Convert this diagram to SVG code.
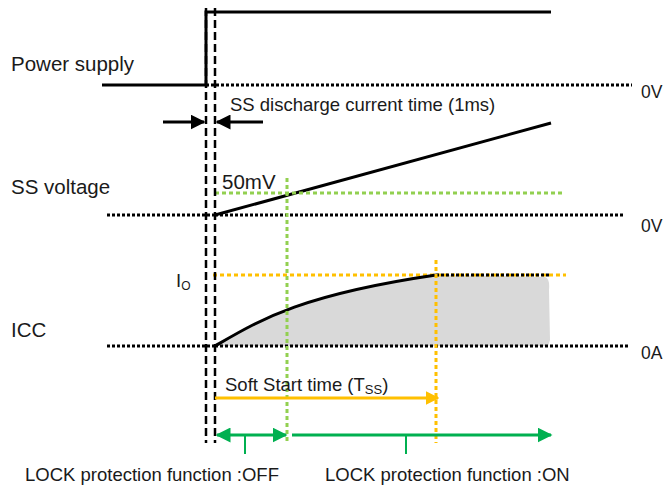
<svg xmlns="http://www.w3.org/2000/svg" width="664" height="487" viewBox="0 0 664 487">
<defs>
<style>
text{font-family:"Liberation Sans",Arial,sans-serif;font-size:18.5px;fill:#1a1a1a}
.big{font-size:20.5px}
.small{font-size:17.5px}
.solid{stroke:#000;stroke-width:3;fill:none}
.dot{stroke:#000;stroke-width:3;stroke-dasharray:3 2;fill:none}
.vdash{stroke:#000;stroke-width:2.5;stroke-dasharray:8 4;fill:none}
.gdot{stroke:#92d050;stroke-width:3;stroke-dasharray:4 3;fill:none}
.odot{stroke:#ffc000;stroke-width:3;stroke-dasharray:4 3;fill:none}
</style>
<marker id="ab" viewBox="0 0 10 10" refX="9" refY="5" markerWidth="5" markerHeight="5" orient="auto-start-reverse"><path d="M0,0L10,5L0,10z" fill="#000"/></marker>
<marker id="ag" viewBox="0 0 10 10" refX="9" refY="5" markerWidth="5" markerHeight="5" orient="auto-start-reverse"><path d="M0,0L10,5L0,10z" fill="#00b050"/></marker>
<marker id="ao" viewBox="0 0 10 10" refX="9" refY="5" markerWidth="4.5" markerHeight="4.5" orient="auto"><path d="M0,0L10,5L0,10z" fill="#ffc000"/></marker>
</defs>
<rect width="664" height="487" fill="#fff"/>

<g id="fill-area">
<path d="M215,346 C260,320 300,295 436,275 L545,277 Q550,278 549,290 L550,340 L548,346 Z" fill="#d9d9d9"/>
</g>

<g id="power-supply">
<text class="big" x="11" y="71">Power supply</text>
<path class="solid" d="M102,85 H206 V12 H551"/>
<line class="dot" x1="206" y1="85" x2="632" y2="85"/>
<text class="small" x="641" y="98">0V</text>
</g>

<g id="ss-voltage">
<text class="big" x="11" y="194">SS voltage</text>
<line class="dot" x1="107" y1="215" x2="215" y2="215"/>
<line class="dot" x1="215" y1="215" x2="624" y2="215"/>
<line class="solid" x1="215" y1="215" x2="551" y2="123"/>
<text class="small" x="641" y="232">0V</text>
<text class="big" x="222" y="189">50mV</text>
<line class="gdot" x1="215" y1="193" x2="565" y2="193"/>
</g>

<g id="icc">
<text class="big" x="11" y="337">ICC</text>
<line class="dot" x1="107" y1="346" x2="215" y2="346"/>
<line class="dot" x1="215" y1="346" x2="630" y2="346"/>
<text class="small" x="641" y="359">0A</text>
<text x="176" y="287">I<tspan font-size="12" dy="3">O</tspan></text>
<line class="odot" x1="213" y1="275" x2="566" y2="275"/>
<path class="solid" d="M215,346 C260,320 300,295 436,275"/>
<line class="dot" x1="436" y1="275" x2="550" y2="275"/>
</g>

<g id="markers">
<line class="vdash" x1="206" y1="8" x2="206" y2="443"/>
<line class="vdash" x1="215" y1="8" x2="215" y2="443"/>
<line class="gdot" x1="287" y1="178" x2="287" y2="443"/>
<line class="odot" x1="436" y1="260" x2="436" y2="443"/>
</g>

<g id="connectors">
<line x1="163" y1="122" x2="204" y2="122" stroke="#000" stroke-width="3" marker-end="url(#ab)"/>
<line x1="263" y1="122" x2="217" y2="122" stroke="#000" stroke-width="3" marker-end="url(#ab)"/>
<line x1="215" y1="398" x2="438" y2="398" stroke="#ffc000" stroke-width="3" marker-end="url(#ao)"/>
<line x1="217" y1="435" x2="286" y2="435" stroke="#00b050" stroke-width="3" marker-start="url(#ag)" marker-end="url(#ag)"/>
<line x1="292" y1="435" x2="551" y2="435" stroke="#00b050" stroke-width="3" marker-end="url(#ag)"/>
<line x1="245" y1="435" x2="245" y2="454" stroke="#00b050" stroke-width="2"/>
<line x1="406" y1="435" x2="406" y2="454" stroke="#00b050" stroke-width="2"/>
</g>

<g id="labels">
<text x="230" y="111">SS discharge current time (1ms)</text>
<text x="225" y="391">Soft Start time (T<tspan font-size="13" dy="3">SS</tspan><tspan dy="-3">)</tspan></text>
<text x="25" y="481">LOCK protection function :OFF</text>
<text x="325" y="481">LOCK protection function :ON</text>
</g>
</svg>
